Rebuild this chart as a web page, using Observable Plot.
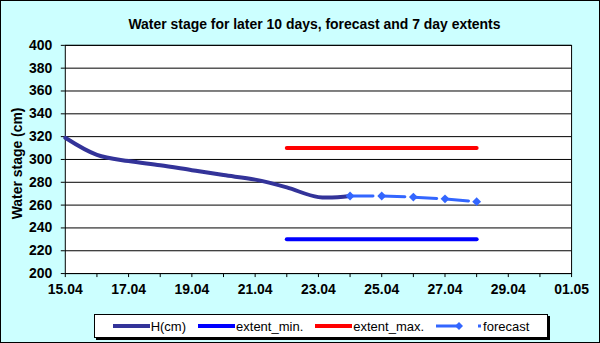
<!DOCTYPE html>
<html><head><meta charset="utf-8">
<script src="https://cdn.jsdelivr.net/npm/d3@7"></script>
<script src="https://cdn.jsdelivr.net/npm/@observablehq/plot@0.6"></script>
<style>
body{margin:0;background:#fff;}
#chart{position:relative;width:600px;height:343px;background:#CCFFFF;box-sizing:border-box;border:1px solid #000;overflow:hidden;font-family:"Liberation Sans",Arial,sans-serif;}
#chart > svg{position:absolute;left:-1px;top:-1px;}
#legend{position:absolute;left:93px;top:313px;width:452px;height:22px;background:#fff;border:1px solid #000;box-shadow:2px 2px 0 #000;display:flex;align-items:center;justify-content:center;gap:12px;font-size:13px;color:#000;}
.item{display:flex;align-items:center;gap:1px;}
</style></head><body><div id="chart"></div>
<script>
const YEAR = 2024;
const title = "Water stage for later 10 days, forecast and 7 day extents";
const yLabel = "Water stage (cm)";
const observedDays = ["15.04","16.04","17.04","18.04","19.04","20.04","21.04","22.04","23.04","24.04"];
const observedH = [319, 304, 298.6, 295, 290.6, 286.3, 282.3, 275.5, 267, 268];
const forecastDays = ["24.04","25.04","26.04","27.04","28.04"];
const forecastH = [268, 268, 267, 265.5, 263];
const extentDays = ["22.04","28.04"];
const extentMin = [230, 230];
const extentMax = [310, 310];
const xDomainDays = ["15.04","01.05"];
const xLabelDays = ["15.04","17.04","19.04","21.04","23.04","25.04","27.04","29.04","01.05"];
const yTicks = [200,220,240,260,280,300,320,340,360,380,400];
const seriesNames = ["H(cm)","extent_min.","extent_max.","forecast"];
const seriesColors = ["#333399","#0000FF","#FF0000","#3366FF"];

const parse = s => { const [d, m] = s.split(".").map(Number); return new Date(Date.UTC(YEAR, m - 1, d)); };
const pairs = (days, vals) => days.map((d, i) => ({date: parse(d), value: vals[i]}));
const obs = pairs(observedDays, observedH);
const fc = pairs(forecastDays, forecastH);
const mn = pairs(extentDays, extentMin);
const mx = pairs(extentDays, extentMax);
const x0 = parse(xDomainDays[0]), x1 = parse(xDomainDays[1]);
const allDays = d3.utcDay.range(x0, d3.utcDay.offset(x1, 1));

const plot = Plot.plot({
  width: 600, height: 343,
  marginLeft: 65, marginRight: 27, marginTop: 45, marginBottom: 69,
  style: {background: "transparent", fontFamily: "'Liberation Sans', Arial, sans-serif", fontSize: "14px", fontWeight: "bold", color: "#000"},
  x: {type: "utc", domain: [x0, x1]},
  y: {domain: [200, 400]},
  marks: [
    Plot.frame({fill: "#fff"}),
    Plot.ruleY(yTicks, {stroke: "#000", strokeWidth: 1}),
    Plot.frame({stroke: "#000", strokeWidth: 1}),
    Plot.axisX(allDays, {tickSize: 4, tickFormat: null, text: null, stroke: "#000"}),
    Plot.axisX(xLabelDays.map(parse), {tickSize: 0, tickPadding: 11, tickFormat: d3.utcFormat("%d.%m"), label: null, fill: "#000", fontSize: 14, fontWeight: "bold"}),
    Plot.axisY(yTicks, {tickSize: 4, tickPadding: 9, label: null, stroke: "#000", fill: "#000", fontSize: 14, fontWeight: "bold"}),
    Plot.line(mn, {x: "date", y: "value", stroke: seriesColors[1], strokeWidth: 4}),
    Plot.line(mx, {x: "date", y: "value", stroke: seriesColors[2], strokeWidth: 4}),
    Plot.line(obs, {x: "date", y: "value", stroke: seriesColors[0], strokeWidth: 4, curve: "catmull-rom"}),
    Plot.line(fc, {x: "date", y: "value", stroke: seriesColors[3], strokeWidth: 3, strokeDasharray: "23,9"}),
    Plot.dot(fc, {x: "date", y: "value", fill: seriesColors[3], symbol: "diamond2", r: 4}),
    Plot.text([title], {frameAnchor: "top", dy: -21, dx: -4, lineAnchor: "middle", fontSize: 14, fontWeight: "bold", fill: "#000"}),
    Plot.text([yLabel], {frameAnchor: "left", rotate: -90, dx: -48, dy: 4, textAnchor: "middle", lineAnchor: "middle", fontSize: 14, fontWeight: "bold", fill: "#000"})
  ]
});
const chart = document.getElementById("chart");
chart.appendChild(plot);
plot.querySelectorAll("text").forEach(t => {
  t.style.setProperty("font-size", "14px", "important");
  t.style.setProperty("font-weight", "bold", "important");
  t.style.setProperty("font-family", "'Liberation Sans', Arial, sans-serif", "important");
});

const legend = document.createElement("div");
legend.id = "legend";
seriesNames.forEach((name, i) => {
  const item = document.createElement("div");
  item.className = "item";
  const ns = "http://www.w3.org/2000/svg";
  const sw = document.createElementNS(ns, "svg");
  const w = i === 3 ? 46 : 37;
  sw.setAttribute("width", w); sw.setAttribute("height", 10);
  const ln = document.createElementNS(ns, "line");
  ln.setAttribute("x1", 0); ln.setAttribute("x2", w); ln.setAttribute("y1", 5); ln.setAttribute("y2", 5);
  ln.setAttribute("stroke", seriesColors[i]);
  ln.setAttribute("stroke-width", i === 3 ? 3 : 4);
  if (i === 3) ln.setAttribute("stroke-dasharray", "25,17,3,1");
  sw.appendChild(ln);
  if (i === 3) {
    const dm = document.createElementNS(ns, "path");
    dm.setAttribute("d", "M23,1L27,5L23,9L19,5Z");
    dm.setAttribute("fill", seriesColors[i]);
    sw.appendChild(dm);
  }
  const t = document.createElement("span");
  t.textContent = name;
  item.appendChild(sw); item.appendChild(t);
  legend.appendChild(item);
});
chart.appendChild(legend);
</script></body></html>
